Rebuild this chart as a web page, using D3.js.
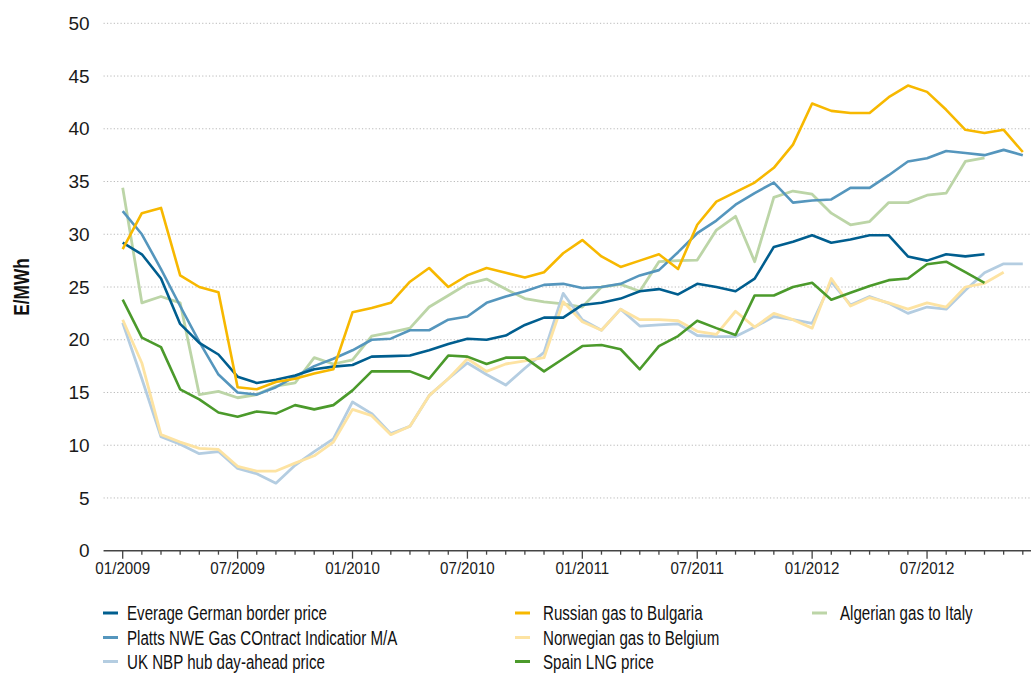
<!DOCTYPE html>
<html>
<head>
<meta charset="utf-8">
<script src="https://cdn.jsdelivr.net/npm/d3@7"></script>
<style>
  html, body { margin: 0; padding: 0; background: #fff; }
  svg { display: block; font-family: "Liberation Sans", Arial, sans-serif; }
</style>
</head>
<body>
<svg id="chart" width="1031" height="675"></svg>
<script>
// Monthly gas prices, 01/2009 – 12/2012 (E/MWh); null = no quote that month
const months = d3.range(48).map(i => new Date(2009, i, 1));

const german = [29.2,28.1,25.8,21.5,19.7,18.6,16.5,15.9,16.2,16.6,17.2,17.45,17.6,18.4,18.45,18.5,19.0,19.6,20.1,20.0,20.4,21.4,22.1,22.1,23.3,23.5,23.9,24.6,24.8,24.3,25.3,25.0,24.6,25.8,28.8,29.3,29.9,29.2,29.5,29.9,29.9,27.9,27.5,28.1,27.9,28.1,null,null];
const platts = [32.2,30.0,26.7,23.2,19.8,16.7,15.0,14.8,15.5,16.5,17.5,18.2,19.0,20.0,20.1,20.9,20.9,21.9,22.2,23.5,24.1,24.6,25.2,25.3,24.9,25.0,25.3,26.1,26.6,28.3,30.1,31.3,32.8,33.9,34.9,33.0,33.2,33.3,34.4,34.4,35.6,36.9,37.2,37.9,37.7,37.5,38.0,37.5];
const ukNbp = [21.6,16.3,10.8,10.1,9.2,9.4,7.8,7.3,6.4,8.1,9.4,10.6,14.1,13.0,11.1,11.8,14.7,16.3,17.8,16.7,15.7,17.3,18.8,24.4,21.9,20.9,22.9,21.3,21.4,21.5,20.4,20.3,20.3,21.2,22.2,21.9,21.55,25.5,23.3,24.1,23.45,22.5,23.1,22.9,24.7,26.35,27.2,27.2];
const russian = [28.6,32.0,32.5,26.1,25.0,24.5,15.5,15.3,16.0,16.3,16.8,17.2,22.6,23.0,23.5,25.5,26.8,25.0,26.1,26.8,26.35,25.9,26.4,28.2,29.45,27.9,26.9,27.5,28.1,26.7,30.9,33.1,34.0,34.9,36.3,38.5,42.4,41.7,41.5,41.5,43.0,44.1,43.5,41.8,39.9,39.6,39.9,37.8];
const norwegian = [21.9,17.8,11.0,10.3,9.7,9.6,8.0,7.55,7.55,8.3,9.0,10.3,13.4,12.8,11.0,11.8,14.7,16.3,18.2,17.0,17.7,18.0,18.3,23.6,21.7,20.9,22.9,21.9,21.9,21.8,20.8,20.5,22.7,21.2,22.5,21.9,21.1,25.8,23.2,24.0,23.5,22.9,23.5,23.1,25.0,25.35,26.4,null];
const spainLng = [23.8,20.2,19.3,15.3,14.35,13.1,12.7,13.2,13.0,13.8,13.4,13.8,15.2,17.0,17.0,17.0,16.3,18.5,18.4,17.7,18.3,18.3,17.0,18.2,19.4,19.5,19.1,17.2,19.4,20.35,21.8,21.1,20.45,24.2,24.2,25.0,25.4,23.8,24.45,25.1,25.65,25.8,27.15,27.4,26.4,25.4,null,null];
const algerian = [34.4,23.5,24.1,23.5,14.8,15.1,14.5,14.8,15.6,15.9,18.3,17.7,18.1,20.35,20.7,21.1,23.1,24.2,25.3,25.75,24.8,23.9,23.6,23.4,23.1,25.0,25.25,24.6,27.4,27.5,27.55,30.4,31.7,27.4,33.5,34.1,33.8,32.0,30.9,31.2,33.0,33.0,33.7,33.9,36.9,37.25,null,null];

const yTicks = [0,5,10,15,20,25,30,35,40,45,50];

// Series in drawing order (bottom first); legend position is kept separately
const series = [
  { name: "Algerian gas to Italy",                   values: algerian,  color: "#bcd5a7", width: 2.8, col: 2, row: 0 },
  { name: "UK NBP hub day-ahead price",              values: ukNbp,     color: "#b4cde1", width: 2.8, col: 0, row: 2 },
  { name: "Norwegian gas to Belgium",                values: norwegian, color: "#fde3a2", width: 2.8, col: 1, row: 1 },
  { name: "Spain LNG price",                         values: spainLng,  color: "#4b9a2b", width: 2.6, col: 1, row: 2 },
  { name: "Platts NWE Gas COntract Indicatior M/A",  values: platts,    color: "#5596bd", width: 2.6, col: 0, row: 1 },
  { name: "Everage German border price",             values: german,    color: "#005e8f", width: 2.6, col: 0, row: 0 },
  { name: "Russian gas to Bulgaria",                 values: russian,   color: "#f7b800", width: 2.6, col: 1, row: 0 }
];

const svg = d3.select("#chart");

const x = d3.scaleLinear().domain([0, 47]).range([122.7, 1022.8]);
const y = d3.scaleLinear().domain([0, 50]).range([550.7, 23.3]);
const plotLeft = x(-1), plotRight = 1031;

// Dotted horizontal gridlines
svg.append("g")
  .selectAll("line")
  .data(yTicks.filter(d => d > 0))
  .join("line")
  .attr("x1", plotLeft).attr("x2", plotRight)
  .attr("y1", d => y(d)).attr("y2", d => y(d))
  .attr("stroke", "#b8b8b8")
  .attr("stroke-width", 1)
  .attr("stroke-dasharray", "1.2,2.2");

// Y axis: labels only
const yAxis = svg.append("g")
  .attr("transform", `translate(${plotLeft},0)`)
  .call(d3.axisLeft(y).tickValues(yTicks).tickSize(0).tickPadding(14));
yAxis.select(".domain").remove();
yAxis.selectAll("text")
  .attr("font-size", 19)
  .attr("fill", "#1a1a1a")
  .attr("font-family", "'Liberation Sans', Arial, sans-serif");

// Y axis title
svg.append("text")
  .attr("transform", "translate(28.5,287) rotate(-90) scale(0.8,1)")
  .attr("text-anchor", "middle")
  .attr("font-size", 21.5)
  .attr("font-weight", "bold")
  .attr("fill", "#111")
  .text("E/MWh");

// X axis: monthly ticks, long ticks and labels every January / July
const monthIdx = d3.range(48);
const xg = svg.append("g").attr("transform", `translate(0,${y(0)})`);
xg.append("line")
  .attr("x1", plotLeft).attr("x2", plotRight)
  .attr("stroke", "#444").attr("stroke-width", 1.6);
xg.selectAll("line.tick")
  .data(monthIdx)
  .join("line")
  .attr("class", "tick")
  .attr("x1", d => x(d)).attr("x2", d => x(d))
  .attr("y1", 0)
  .attr("y2", d => (d % 6 === 0 ? 8 : 4))
  .attr("stroke", "#444").attr("stroke-width", 1.3);

const fmt = d3.timeFormat("%m/%Y");
xg.selectAll("g.xlabel")
  .data(monthIdx.filter(d => d % 6 === 0))
  .join("g")
  .attr("class", "xlabel")
  .attr("transform", d => `translate(${x(d)},22.8) scale(0.88,1)`)
  .append("text")
  .attr("text-anchor", "middle")
  .attr("font-size", 17.2)
  .attr("fill", "#1a1a1a")
  .text(d => fmt(months[d]));

// Lines
const line = d3.line()
  .defined(d => d.v != null)
  .x(d => x(d.i))
  .y(d => y(d.v));

svg.append("g")
  .selectAll("path")
  .data(series)
  .join("path")
  .attr("fill", "none")
  .attr("stroke", s => s.color)
  .attr("stroke-width", s => s.width)
  .attr("stroke-linejoin", "round")
  .attr("d", s => line(s.values.map((v, i) => ({ i, v }))));

// Legend: three columns
const colSwatchX = [103, 515, 812];
const colTextX = [127, 543, 840];
const rowBase = [620, 644.5, 668.5];

const legend = svg.append("g")
  .selectAll("g")
  .data(series)
  .join("g");
legend.append("line")
  .attr("x1", s => colSwatchX[s.col]).attr("x2", s => colSwatchX[s.col] + 15)
  .attr("y1", s => rowBase[s.row] - 7).attr("y2", s => rowBase[s.row] - 7)
  .attr("stroke", s => s.color)
  .attr("stroke-width", 3);
legend.append("g")
  .attr("transform", s => `translate(${colTextX[s.col]},${rowBase[s.row]}) scale(0.775,1)`)
  .append("text")
  .attr("font-size", 19.5)
  .attr("fill", "#111")
  .text(s => s.name);
</script>
</body>
</html>
